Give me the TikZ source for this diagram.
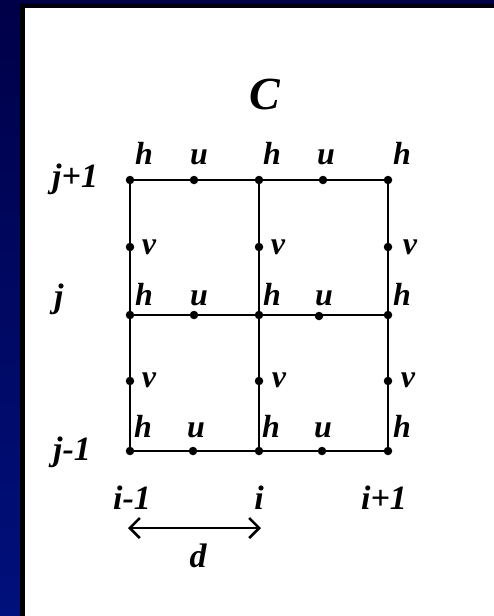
\documentclass[tikz,border=0pt]{standalone}
\usepackage{fontspec}
\setmainfont{Liberation Serif}
\usetikzlibrary{arrows.meta}
\definecolor{navytop}{HTML}{000048}
\definecolor{navybot}{HTML}{00107C}
\tikzset{
  gridline/.style={line width=2.6pt, black},
  dotnode/.style={circle, fill=black, inner sep=0pt, minimum size=8.5pt},
  lbl/.style={font=\fontsize{32}{34}\selectfont\bfseries\itshape, inner sep=0pt, anchor=base},
  biglbl/.style={font=\fontsize{46}{48}\selectfont\bfseries\itshape, inner sep=0pt, anchor=base},
  idxlbl/.style={font=\fontsize{34}{36}\selectfont\bfseries\itshape, inner sep=0pt, anchor=base},
}
\begin{document}
\begin{tikzpicture}[x=1pt,y=-1pt]
\useasboundingbox (0,0) rectangle (494,616);
% background
\shade[top color=navytop, bottom color=navybot] (0,0) rectangle (494,616);
\fill[black] (20,3) rectangle (494,616);
\fill[white] (25,8) rectangle (494,616);
% grid corner dots
\node[dotnode] (a1) at (130,180) {};
\node[dotnode] (a2) at (259,180) {};
\node[dotnode] (a3) at (388,180) {};
\node[dotnode] (b1) at (130,315) {};
\node[dotnode] (b2) at (259,315) {};
\node[dotnode] (b3) at (388,315) {};
\node[dotnode] (c1) at (130,451) {};
\node[dotnode] (c2) at (259,451) {};
\node[dotnode] (c3) at (388,451) {};
% u dots
\node[dotnode] (ua1) at (194,180) {};
\node[dotnode] (ua2) at (323,180) {};
\node[dotnode] (ub1) at (194,315) {};
\node[dotnode] (ub2) at (319,316) {};
\node[dotnode] (uc1) at (193,451) {};
\node[dotnode] (uc2) at (322,451) {};
% v dots
\node[dotnode] (va1) at (130,247) {};
\node[dotnode] (va2) at (259,247) {};
\node[dotnode] (va3) at (388,247) {};
\node[dotnode] (vb1) at (130,381) {};
\node[dotnode] (vb2) at (259,381) {};
\node[dotnode] (vb3) at (388,381) {};
% grid lines
\draw[gridline] (a1.center) -- (ua1.center) -- (a2.center) -- (ua2.center) -- (a3.center);
\draw[gridline] (b1.center) -- (ub1.center) -- (b2.center) -- (b3.center);
\draw[gridline] (c1.center) -- (uc1.center) -- (c2.center) -- (uc2.center) -- (c3.center);
\draw[gridline] (a1.center) -- (va1.center) -- (b1.center) -- (vb1.center) -- (c1.center);
\draw[gridline] (a2.center) -- (va2.center) -- (b2.center) -- (vb2.center) -- (c2.center);
\draw[gridline] (a3.center) -- (va3.center) -- (b3.center) -- (vb3.center) -- (c3.center);
% h / u labels
\node[lbl] (ha1) at (144,164) {h};
\node[lbl] (la1) at (199,164) {u};
\node[lbl] (ha2) at (272,164) {h};
\node[lbl] (la2) at (326,164) {u};
\node[lbl] (ha3) at (402,164) {h};
\node[lbl] (hb1) at (144,305) {h};
\node[lbl] (lb1) at (199,305) {u};
\node[lbl] (hb2) at (272,305) {h};
\node[lbl] (lb2) at (324,305) {u};
\node[lbl] (hb3) at (402,305) {h};
\node[lbl] (hc1) at (143,437) {h};
\node[lbl] (lc1) at (196,437) {u};
\node[lbl] (hc2) at (271,437) {h};
\node[lbl] (lc2) at (323,437) {u};
\node[lbl] (hc3) at (402,437) {h};
% v labels
\node[lbl] (lva1) at (149,254) {v};
\node[lbl] (lva2) at (278,254) {v};
\node[lbl] (lva3) at (410,254) {v};
\node[lbl] (lvb1) at (149,387) {v};
\node[lbl] (lvb2) at (279,387) {v};
\node[lbl] (lvb3) at (408,387) {v};
% title
\node[biglbl] (title) at (265,109) {C};
% row indices
\node[idxlbl, anchor=base west] (jp) at (52,187) {j+1};
\node[idxlbl, anchor=base west] (j0) at (54,307) {j};
\node[idxlbl, anchor=base west] (jm) at (53,460) {j-1};
% column indices
\node[idxlbl] (im) at (132,509) {i-1};
\node[idxlbl] (i0) at (259,509) {i};
\node[idxlbl] (ip) at (384,509) {i+1};
% d arrow
\coordinate (dl) at (128,528);
\coordinate (dr) at (261,528);
\draw[line width=2.6pt, {Straight Barb[length=10pt,width=20pt,line width=2.6pt]}-{Straight Barb[length=10pt,width=20pt,line width=2.6pt]}] (dl) -- (dr);
\node[idxlbl] (dlab) at (198,567) {d};
\end{tikzpicture}
\end{document}
